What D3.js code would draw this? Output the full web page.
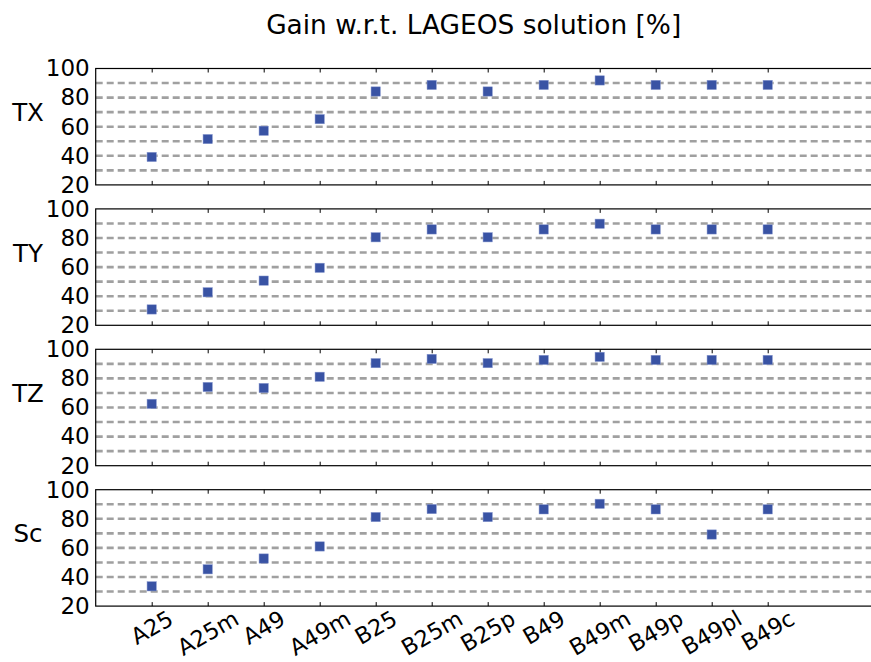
<!DOCTYPE html>
<html>
<head>
<meta charset="utf-8">
<script src="https://cdn.jsdelivr.net/npm/d3@7"></script>
<style>
  html, body { margin: 0; padding: 0; background: #fff; }
  svg { display: block; font-family: "DejaVu Sans", sans-serif; }
</style>
</head>
<body>
<script>
const categories = ["A25","A25m","A49","A49m","B25","B25m","B25p","B49","B49m","B49p","B49pl","B49c"];
const seriesNames = ["TX","TY","TZ","Sc"];
const txValues = [39.2, 51.5, 57.2, 65.2, 84.2, 88.7, 84.2, 88.7, 91.8, 88.7, 88.7, 88.7];
const tyValues = [30.9, 42.7, 50.7, 59.5, 80.5, 85.9, 80.5, 85.9, 89.8, 85.9, 85.9, 85.9];
const tzValues = [62.5, 74.1, 73.4, 81.1, 90.5, 93.4, 90.5, 92.7, 94.8, 92.7, 92.7, 92.7];
const scValues = [33.6, 45.3, 52.7, 61.0, 81.2, 86.7, 81.2, 86.5, 90.3, 86.5, 69.2, 86.5];
const yTickValues = [20, 40, 60, 80, 100];
const gridValues = [30, 40, 50, 60, 70, 80, 90];
const titleText = "Gain w.r.t. LAGEOS solution [%]";

const series = [txValues, tyValues, tzValues, scValues];

const W = 871, H = 662;
const svg = d3.select("body").append("svg").attr("width", W).attr("height", H);

const left = 95.7, right = 879.7;
const panelTop0 = 68.5, panelStep = 140.4, panelH = 116.4;
const x = d3.scaleLinear().domain([-1, 13]).range([left, right]);
const idx = d3.range(categories.length);

svg.append("text")
  .attr("x", 473.7).attr("y", 34)
  .attr("text-anchor", "middle")
  .attr("font-size", 26.4)
  .attr("fill", "#000")
  .text(titleText);

series.forEach((vals, p) => {
  const top = panelTop0 + p * panelStep;
  const y = d3.scaleLinear().domain([20, 100]).range([top + panelH, top]);
  const g = svg.append("g");

  // gridlines
  g.selectAll("line.grid").data(gridValues).join("line")
    .attr("class", "grid")
    .attr("x1", left).attr("x2", right)
    .attr("y1", d => y(d)).attr("y2", d => y(d))
    .attr("stroke", "#a0a0a0").attr("stroke-width", 2.6)
    .attr("stroke-dasharray", "7,4");

  // y axis labels
  const ya = g.append("g").attr("transform", `translate(${left},0)`)
    .call(d3.axisLeft(y).tickValues(yTickValues).tickSize(0).tickPadding(6).tickFormat(d3.format("d")));
  ya.select(".domain").remove();
  ya.selectAll("text").attr("font-size", 23).attr("font-family", "DejaVu Sans").attr("fill", "#000");

  // x ticks bottom (inward)
  const xb = g.append("g").attr("transform", `translate(0,${top + panelH})`)
    .call(d3.axisBottom(x).tickValues(idx).tickSize(-4).tickFormat(""));
  xb.select(".domain").remove();
  xb.selectAll("line").attr("stroke", "#000").attr("stroke-width", 1);

  // x ticks top (inward)
  const xt = g.append("g").attr("transform", `translate(0,${top})`)
    .call(d3.axisTop(x).tickValues(idx).tickSize(-4).tickFormat(""));
  xt.select(".domain").remove();
  xt.selectAll("line").attr("stroke", "#000").attr("stroke-width", 1);

  // frame
  g.append("rect")
    .attr("x", left).attr("y", top)
    .attr("width", right - left).attr("height", panelH)
    .attr("fill", "none").attr("stroke", "#000").attr("stroke-width", 1.2);

  // markers
  const s = 9.3;
  g.selectAll("rect.pt").data(vals).join("rect")
    .attr("class", "pt")
    .attr("x", (d, i) => x(i) - s / 2)
    .attr("y", d => y(d) - s / 2)
    .attr("width", s).attr("height", s)
    .attr("fill", "#3953a4")
    .attr("stroke", "#8a9ad0").attr("stroke-width", 0.5);

  // series label
  g.append("text")
    .attr("x", 28).attr("y", top + panelH / 2 - 5.5)
    .attr("text-anchor", "middle")
    .attr("font-size", 24.5)
    .attr("fill", "#000")
    .text(seriesNames[p]);

  // x labels on last panel
  if (p === series.length - 1) {
    const fs = 22.5;
    const lg = g.append("g");
    categories.forEach((c, i) => {
      const t = lg.append("text")
        .attr("text-anchor", "middle")
        .attr("font-size", fs)
        .attr("fill", "#000")
        .attr("y", 0.365 * fs)
        .text(c);
      const w = t.node().getComputedTextLength();
      const hh = 0.73 * fs;
      const rotH = w * 0.5 + hh * 0.866;
      const cy = 609 + rotH / 2;
      t.attr("transform", `translate(${x(i)},${cy}) rotate(-30)`);
    });
  }
});
</script>
</body>
</html>
